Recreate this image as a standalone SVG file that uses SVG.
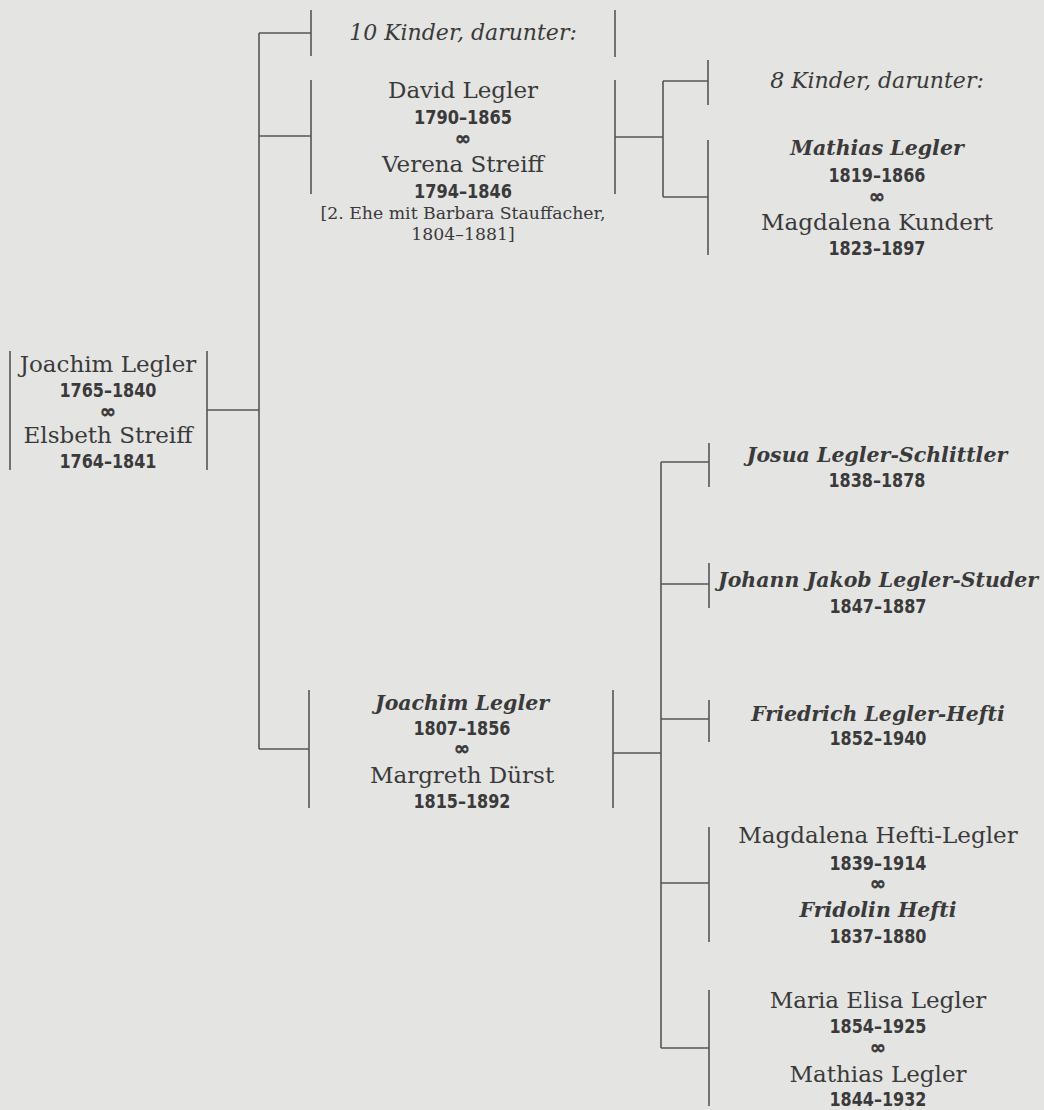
<svg xmlns="http://www.w3.org/2000/svg" width="1044" height="1110" viewBox="0 0 1044 1110">
<style>
.bg{fill:#e4e4e3}
.ln{stroke:#555;stroke-width:1.6;fill:none}
text{fill:#3a3a3a;text-anchor:middle}
.nm{font-family:"DejaVu Serif","Liberation Serif",serif;font-size:23px}
.bi{font-family:"DejaVu Serif","Liberation Serif",serif;font-size:20.5px;font-style:italic;font-weight:bold}
.it{font-family:"DejaVu Serif","Liberation Serif",serif;font-size:22px;font-style:italic}
.dt{font-family:"DejaVu Sans Condensed","DejaVu Sans",sans-serif;font-size:19px;font-weight:bold}
.mr{font-family:"DejaVu Sans","Liberation Sans",sans-serif;font-size:19px;font-weight:bold;stroke:#3a3a3a;stroke-width:0.6}
.nt{font-family:"DejaVu Serif","Liberation Serif",serif;font-size:17.3px}
</style>
<rect class="bg" x="0" y="0" width="1044" height="1110"/>
<g id="connectors" class="ln">
  <path d="M10 351V470M207 351V470M207 410H259"/>
  <path d="M259 33V749"/>
  <path d="M259 33H311M311 10V56"/>
  <path d="M259 136H311M311 80V194"/>
  <path d="M259 749H309M309 690V808"/>
  <path d="M615 10V57M615 80V194M615 137H663M663 81V197M663 81H708M663 197H708M708 60V105M708 140V255"/>
  <path d="M613 690V808M613 753H661M661 462V1048"/>
  <path d="M661 462H709M709 443V487"/>
  <path d="M661 584H709M709 563V608"/>
  <path d="M661 719H709M709 700V742"/>
  <path d="M661 883H709M709 827V942"/>
  <path d="M661 1048H709M709 990V1106"/>
</g>
<g id="node-joachim-1765">
  <text class="nm" x="108" y="372">Joachim Legler</text>
  <text class="dt" x="108" y="397" textLength="97" lengthAdjust="spacingAndGlyphs">1765–1840</text>
  <text class="mr" x="108" y="418">∞</text>
  <text class="nm" x="108" y="443">Elsbeth Streiff</text>
  <text class="dt" x="108" y="468" textLength="97" lengthAdjust="spacingAndGlyphs">1764–1841</text>
</g>
<g id="node-10-kinder">
  <text class="it" x="463" y="40">10 Kinder, darunter:</text>
</g>
<g id="node-david">
  <text class="nm" x="463" y="98">David Legler</text>
  <text class="dt" x="463" y="124" textLength="98" lengthAdjust="spacingAndGlyphs">1790–1865</text>
  <text class="mr" x="463" y="145">∞</text>
  <text class="nm" x="463" y="172">Verena Streiff</text>
  <text class="dt" x="463" y="198" textLength="98" lengthAdjust="spacingAndGlyphs">1794–1846</text>
  <text class="nt" x="463" y="219">[2. Ehe mit Barbara Stauffacher,</text>
  <text class="nt" x="463" y="240">1804–1881]</text>
</g>
<g id="node-8-kinder">
  <text class="it" x="877" y="88">8 Kinder, darunter:</text>
</g>
<g id="node-mathias-1819">
  <text class="bi" x="877" y="155">Mathias Legler</text>
  <text class="dt" x="877" y="182" textLength="97" lengthAdjust="spacingAndGlyphs">1819–1866</text>
  <text class="mr" x="877" y="203">∞</text>
  <text class="nm" x="877" y="230">Magdalena Kundert</text>
  <text class="dt" x="877" y="255" textLength="97" lengthAdjust="spacingAndGlyphs">1823–1897</text>
</g>
<g id="node-joachim-1807">
  <text class="bi" x="462" y="710">Joachim Legler</text>
  <text class="dt" x="462" y="735" textLength="97" lengthAdjust="spacingAndGlyphs">1807–1856</text>
  <text class="mr" x="462" y="755">∞</text>
  <text class="nm" x="462" y="783">Margreth Dürst</text>
  <text class="dt" x="462" y="808" textLength="97" lengthAdjust="spacingAndGlyphs">1815–1892</text>
</g>
<g id="node-josua">
  <text class="bi" x="877" y="462">Josua Legler-Schlittler</text>
  <text class="dt" x="877" y="487" textLength="97" lengthAdjust="spacingAndGlyphs">1838–1878</text>
</g>
<g id="node-johann-jakob">
  <text class="bi" x="878" y="587">Johann Jakob Legler-Studer</text>
  <text class="dt" x="878" y="613" textLength="97" lengthAdjust="spacingAndGlyphs">1847–1887</text>
</g>
<g id="node-friedrich">
  <text class="bi" x="878" y="721">Friedrich Legler-Hefti</text>
  <text class="dt" x="878" y="745" textLength="97" lengthAdjust="spacingAndGlyphs">1852–1940</text>
</g>
<g id="node-magdalena-hefti">
  <text class="nm" x="878" y="843">Magdalena Hefti-Legler</text>
  <text class="dt" x="878" y="870" textLength="97" lengthAdjust="spacingAndGlyphs">1839–1914</text>
  <text class="mr" x="878" y="890">∞</text>
  <text class="bi" x="878" y="917">Fridolin Hefti</text>
  <text class="dt" x="878" y="943" textLength="97" lengthAdjust="spacingAndGlyphs">1837–1880</text>
</g>
<g id="node-maria-elisa">
  <text class="nm" x="878" y="1008">Maria Elisa Legler</text>
  <text class="dt" x="878" y="1033" textLength="97" lengthAdjust="spacingAndGlyphs">1854–1925</text>
  <text class="mr" x="878" y="1054">∞</text>
  <text class="nm" x="878" y="1082">Mathias Legler</text>
  <text class="dt" x="878" y="1106" textLength="97" lengthAdjust="spacingAndGlyphs">1844–1932</text>
</g>
</svg>
